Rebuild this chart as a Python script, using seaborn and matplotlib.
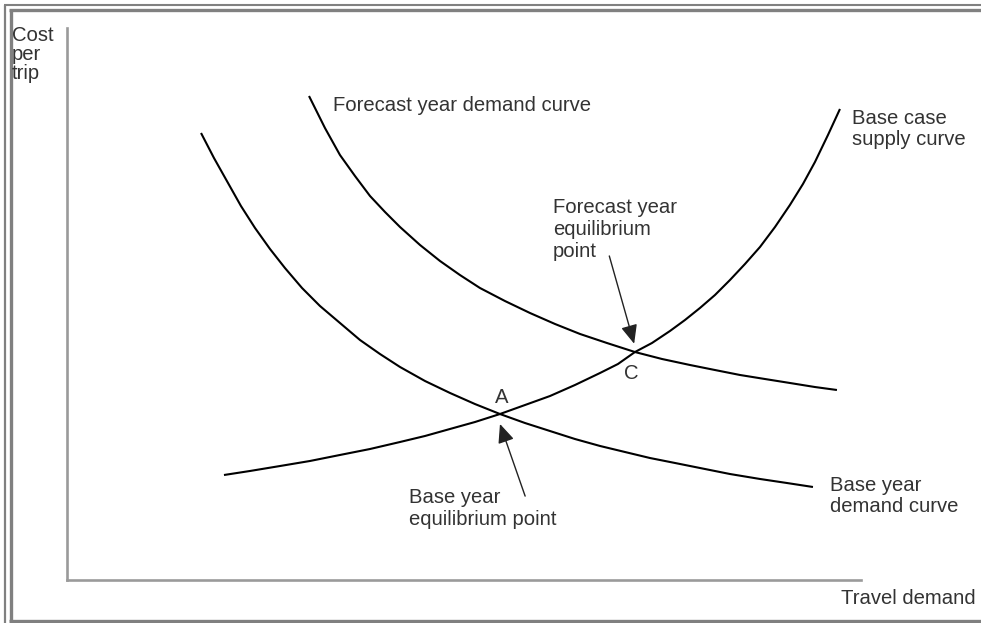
import matplotlib
matplotlib.use("Agg")
import matplotlib.pyplot as plt
import seaborn as sns
import pandas as pd

# ---- data (arbitrary 0-100 units on both axes) ----
base_demand_x = [16.88, 18.51, 20.28, 21.91, 23.68, 25.57, 27.45, 29.60, 31.86, 34.38,
                 36.90, 39.42, 41.94, 45.09, 48.24, 51.38, 54.53, 57.68, 60.83, 63.98,
                 67.13, 70.27, 73.42, 76.57, 79.72, 83.50, 87.28, 90.68, 93.95]
base_demand_y = [80.98, 76.45, 71.92, 67.75, 63.77, 59.96, 56.52, 52.90, 49.64, 46.56,
                 43.48, 40.94, 38.59, 36.05, 33.88, 31.88, 30.07, 28.44, 26.99, 25.54,
                 24.28, 23.19, 22.10, 21.20, 20.29, 19.20, 18.30, 17.57, 16.85]

forecast_demand_x = [30.48, 32.49, 34.38, 36.27, 38.16, 40.05, 41.94, 44.46, 46.98, 49.49,
                     52.01, 55.16, 58.31, 61.46, 64.61, 68.01, 71.53, 74.93, 78.46, 81.61,
                     84.76, 87.91, 91.05, 94.20, 96.97]
forecast_demand_y = [87.68, 81.88, 76.99, 73.19, 69.57, 66.67, 63.95, 60.69, 57.79, 55.25,
                     52.90, 50.54, 48.37, 46.38, 44.57, 42.93, 41.30, 40.04, 38.95, 38.04,
                     37.14, 36.41, 35.69, 34.96, 34.42]

supply_x = [19.77, 23.05, 26.83, 30.60, 34.38, 38.16, 41.94, 45.09, 48.24, 51.38,
            54.53, 57.68, 60.83, 63.98, 67.13, 69.39, 71.53, 73.67, 75.94, 77.83,
            79.72, 81.61, 83.50, 85.39, 87.28, 89.17, 91.05, 92.69, 94.20, 95.84, 97.35]
supply_y = [19.02, 19.75, 20.65, 21.56, 22.65, 23.73, 25.00, 26.09, 27.36, 28.62,
            30.07, 31.70, 33.33, 35.33, 37.50, 39.13, 41.30, 42.93, 45.11, 47.10,
            49.28, 51.63, 54.35, 57.25, 60.33, 63.95, 67.94, 71.74, 75.72, 80.62, 85.33]

point_a = (54.53, 30.07)   # base year equilibrium
point_c = (71.53, 41.30)   # forecast year equilibrium

# ---- figure ----
W, H = 981, 623
sns.set_theme(style="white")
plt.rcParams["font.family"] = ["Liberation Sans", "DejaVu Sans"]

fig = plt.figure(figsize=(W / 100, H / 100), dpi=100)
fig.patch.set_facecolor("white")

# axes: origin at pixel (67,580), top at y=28, right end at x=861
ax = fig.add_axes([67 / W, (H - 580) / H, (861 - 67) / W, (580 - 28) / H])
ax.set_xlim(0, 100)
ax.set_ylim(0, 100)
ax.set_xticks([])
ax.set_yticks([])
for s in ["top", "right"]:
    ax.spines[s].set_visible(False)
for s in ["left", "bottom"]:
    ax.spines[s].set_color("#9a9a9a")
    ax.spines[s].set_linewidth(1.9)
ax.set_facecolor("none")

curves = [
    (base_demand_x, base_demand_y),
    (forecast_demand_x, forecast_demand_y),
    (supply_x, supply_y),
]
for cx, cy in curves:
    df = pd.DataFrame({"x": cx, "y": cy})
    sns.lineplot(data=df, x="x", y="y", sort=False, color="black",
                 linewidth=1.5, ax=ax, legend=False, clip_on=False,
                 solid_joinstyle="round", solid_capstyle="butt")
ax.set_xlabel("")
ax.set_ylabel("")

# arrows to the equilibrium points
arrow_kw = dict(arrowstyle="-|>,head_length=1.15,head_width=0.5",
                color="#222222", lw=1.0, shrinkA=0, shrinkB=0,
                mutation_scale=10)
ax.annotate("", xy=(point_a[0], point_a[1] - 1.8), xytext=(57.7, 15.2),
            arrowprops=arrow_kw)
ax.annotate("", xy=(point_c[0] - 0.1, point_c[1] + 1.5), xytext=(68.3, 58.7),
            arrowprops=arrow_kw)

# ---- text (pixel positions converted to figure fractions) ----
TXT = "#333333"
FS = 14.6


def ftext(px, py, s, ha="left"):
    fig.text(px / W, 1 - py / H, s, ha=ha, va="baseline",
             fontsize=FS, color=TXT)


ftext(12, 41, "Cost")
ftext(12, 60, "per")
ftext(12, 79, "trip")
ftext(976, 604, "Travel demand", ha="right")
ftext(333, 111, "Forecast year demand curve")
ftext(852, 124, "Base case")
ftext(852, 145, "supply curve")
ftext(553, 213, "Forecast year")
ftext(553, 235, "equilibrium")
ftext(553, 257, "point")
ftext(631, 379, "C", ha="center")
ftext(502, 403, "A", ha="center")
ftext(409, 503, "Base year")
ftext(409, 525, "equilibrium point")
ftext(830, 491, "Base year")
ftext(830, 512, "demand curve")

# ---- double grey frame round the picture ----
GR = "#808080"


def fline(x0, y0, x1, y1, lw):
    fig.add_artist(plt.Line2D([x0 / W, x1 / W], [1 - y0 / H, 1 - y1 / H],
                              color=GR, linewidth=lw,
                              transform=fig.transFigure, solid_capstyle="butt"))


# outer frame (left & top)
fline(5, 4.5, 5, H + 5, 1.6)
fline(4, 4.5, W + 5, 4.5, 1.5)
# inner frame (left, top, bottom)
fline(10.5, 9.5, 10.5, 621, 2.4)
fline(9, 9.5, W + 5, 9.5, 2.4)
fline(9, 620.5, W + 5, 620.5, 2.4)

fig.savefig("out.png", dpi=100, facecolor="white")
